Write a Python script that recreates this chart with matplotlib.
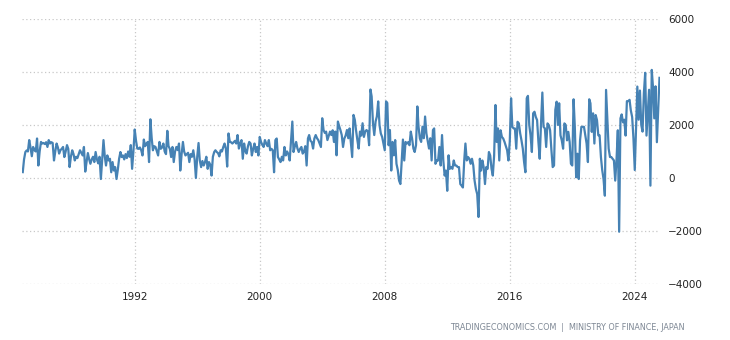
import numpy as np
import pandas as pd
import matplotlib
matplotlib.use("Agg")
import matplotlib.pyplot as plt
import matplotlib.dates as mdates

# monthly balance, JPY billion, one row per 12 months starting 1984-11
balance = [
    220, 700, 980, 1040, 1000, 1430, 1150, 820, 1170, 1050, 1000, 1490,
    470, 1000, 1360, 1300, 1320, 1280, 1350, 1170, 1430, 1300, 1350, 1320,
    660, 1000, 1300, 1150, 920, 1050, 1100, 1170, 790, 1000, 1240, 1100,
    410, 800, 1045, 900, 660, 800, 750, 900, 1045, 950, 850, 1170,
    240, 600, 940, 700, 535, 700, 800, 600, 980, 700, 550, 800,
    -40, 700, 1430, 800, 470, 850, 660, 725, 215, 600, 280, 410,
    -40, 300, 725, 980, 790, 850, 700, 900, 750, 1000, 800, 1240,
    345, 1000, 1830, 1400, 1110, 1100, 1150, 1050, 850, 1450, 1200, 1300,
    1360, 600, 2215, 1500, 1045, 1200, 1170, 1000, 850, 1360, 1100, 1150,
    1300, 1000, 900, 1780, 1200, 1100, 790, 1170, 600, 1000, 1170, 1050,
    1300, 280, 900, 1360, 1000, 850, 900, 950, 600, 900, 800, 1045,
    700, 0, 800, 1320, 660, 410, 640, 470, 600, 800, 345, 600,
    500, 90, 800, 980, 1045, 980, 940, 815, 1045, 1000, 1170, 1300,
    1100, 430, 1680, 1360, 1350, 1300, 1350, 1400, 1300, 1620, 1110, 1300,
    1430, 725, 1300, 1000, 920, 1200, 1360, 1300, 850, 1100, 1300, 980,
    1170, 850, 1550, 1360, 1250, 1170, 1430, 1300, 1200, 1430, 1045, 1100,
    1045, 215, 1430, 1490, 790, 700, 600, 800, 660, 1170, 850, 1000,
    900, 660, 1400, 2130, 980, 1200, 1360, 1110, 980, 1100, 1170, 920,
    1000, 1200, 470, 1490, 1620, 1400, 1360, 1110, 1490, 1620, 1500, 1430,
    1300, 1170, 2255, 1810, 1700, 1750, 1430, 1600, 1750, 1620, 1800, 1360,
    1750, 855, 2130, 1950, 1810, 1620, 1170, 1490, 1600, 1810, 1500, 1870,
    1300, 790, 2380, 2190, 1800, 1430, 1110, 1750, 1600, 2065, 1550, 1750,
    1810, 1750, 1235, 3340, 3080, 2065, 1620, 2130, 2320, 2890, 2000, 1680,
    1550, 1300, 1045, 2890, 2830, 1235, 1810, 280, 1360, 855, 1430, 535,
    300, -100, -230, 660, 1450, 660, 1360, 1300, 1350, 1235, 1750, 1490,
    1110, 980, 1235, 2700, 1935, 1490, 1360, 1935, 1500, 2320, 1680, 1400,
    1110, 1500, 660, 1810, 1870, 535, 660, 660, 1170, 470, 1620, 660,
    90, 280, -485, 855, 345, 410, 345, 660, 470, 470, 410, 410,
    -230, -290, -360, 660, 1300, 660, 790, 725, 535, 725, 470, -100,
    -420, -610, -1475, 725, 280, 660, 410, -230, 410, 345, 980, 850,
    345, 90, 850, 2755, 1360, 1870, 660, 1800, 1550, 1490, 1360, 1200,
    1045, 660, 1360, 3010, 1930, 1870, 1870, 1105, 2120, 2060, 1680, 1420,
    1105, 600, 215, 3010, 3100, 2000, 1610, 980, 2440, 2500, 2300, 2185,
    1360, 725, 2060, 3225, 1930, 1870, 1170, 2060, 2000, 1800, 1045, 410,
    470, 2570, 2880, 2000, 2820, 1610, 1420, 1105, 2060, 2000, 1420, 1740,
    1360, 535, 470, 2970, 1930, 25, 915, -40, 1420, 1930, 1930, 1930,
    1610, 1300, 600, 2970, 2820, 1740, 2440, 1300, 2375, 2185, 1610, 1610,
    790, 300, -40, -670, 3325, 2185, 1105, 790, 790, 725, 660, -100,
    700, 1800, -2030, 2250, 2400, 2100, 2200, 1600, 2900, 2900, 2950, 2550,
    2300, 1500, 300, 2000, 3450, 2200, 3300, 2000, 1750, 3200, 3970, 1600,
    2500, 3330, -290, 4080, 3450, 2250, 3460, 1350, 2500, 3780,
]
dates = pd.date_range("1984-11-01", periods=len(balance), freq="MS")

yticks = [-4000, -2000, 0, 2000, 4000, 6000]
xtick_years = [1992, 2000, 2008, 2016, 2024]
source = "TRADINGECONOMICS.COM  |  MINISTRY OF FINANCE, JAPAN"

fig = plt.figure(figsize=(7.3, 3.4), dpi=100)
ax = fig.add_axes([0.030, 0.165, 0.874, 0.779])

ax.plot(dates, balance, color="#4682b4", lw=1.6, solid_joinstyle="round")

ax.set_ylim(-4000, 6000)
ax.set_xlim(dates[0] - pd.Timedelta(days=20), dates[-1] + pd.Timedelta(days=10))
ax.set_yticks(yticks)
ax.set_xticks([pd.Timestamp(f"{y}-01-01") for y in xtick_years])
ax.xaxis.set_major_formatter(mdates.DateFormatter("%Y"))

ax.yaxis.tick_right()
ax.tick_params(axis="both", length=0, labelsize=7.5, colors="#222222")
ax.tick_params(axis="y", pad=6)
ax.tick_params(axis="x", pad=6)

ax.grid(True, color="#c8c8c8", linestyle=(0, (1, 2)), lw=0.9)
ax.set_axisbelow(True)
for s in ax.spines.values():
    s.set_visible(False)

fig.text(0.938, 0.038, source, ha="right", va="center", fontsize=5.8,
         color="#7d8794")

fig.savefig("out.png", dpi=100)
